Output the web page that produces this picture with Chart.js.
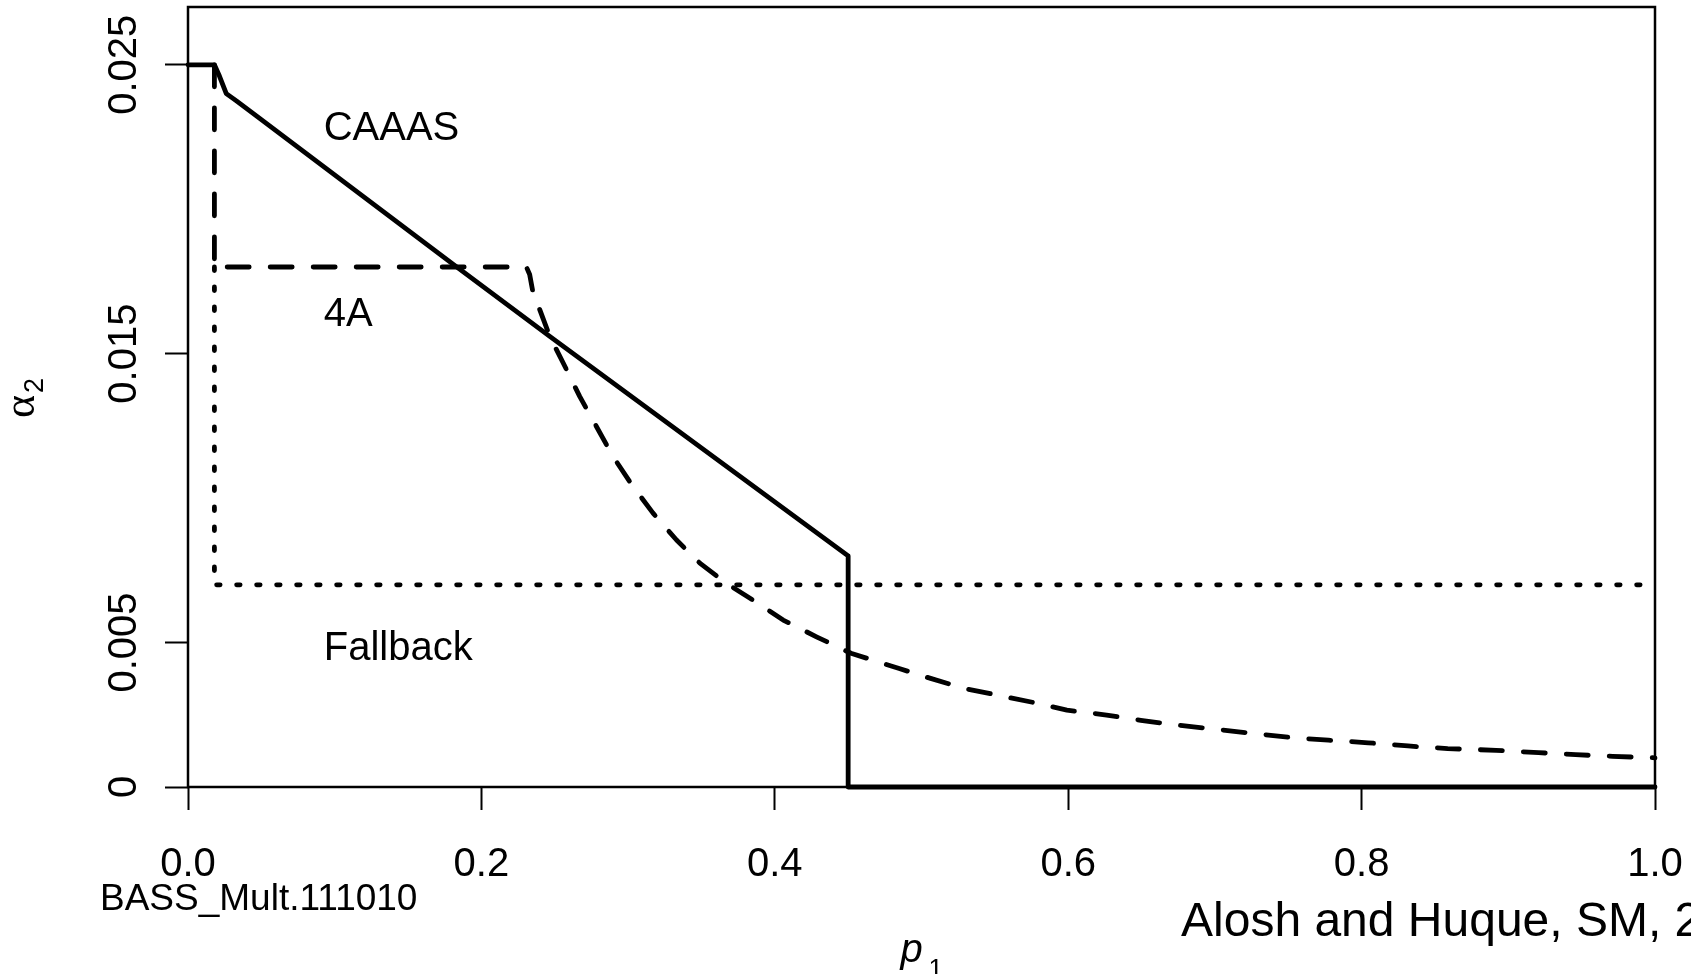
<!DOCTYPE html>
<html>
<head>
<meta charset="utf-8">
<title>alpha2 vs p1</title>
<script src="https://cdn.jsdelivr.net/npm/chart.js@4.4.1/dist/chart.umd.min.js"></script>
<style>
  html, body { margin: 0; padding: 0; background: #fff; overflow: hidden; }
  canvas { display: block; }
</style>
</head>
<body>
<canvas id="alphaChart" width="1691" height="974"></canvas>
<script>
'use strict';

// CAAAS boundary (solid)
const caaasX = [0, 0.018, 0.0215, 0.0261, 0.033, 0.0466, 0.1806, 0.2466, 0.45, 0.45, 1.0];
const caaasY = [0.025, 0.025, 0.0246, 0.0240, 0.02375, 0.02323, 0.0181, 0.0156, 0.0080, 0, 0];

// 4A boundary (dashed)
const fourAX = [0.018, 0.018, 0.2307, 0.2329, 0.2352, 0.2398, 0.2466, 0.258, 0.267, 0.2784, 0.2897,
  0.3034, 0.317, 0.333, 0.3489, 0.367, 0.3852, 0.4057, 0.4284, 0.4519, 0.4848, 0.5062, 0.5294,
  0.5546, 0.5778, 0.5991, 0.6262, 0.6495, 0.6747, 0.7018, 0.727, 0.7522, 0.7774, 0.8045, 0.8316,
  0.8587, 0.8917, 0.9207, 0.9459, 0.9711, 1.0];
const fourAY = [0.025, 0.018, 0.018, 0.01774, 0.01711, 0.01652, 0.0156, 0.01445, 0.01352, 0.01248, 0.01144,
  0.0104, 0.00948, 0.00855, 0.00775, 0.00705, 0.00647, 0.00578, 0.0052, 0.00463, 0.0041, 0.00376, 0.00341,
  0.00315, 0.00291, 0.00266, 0.00249, 0.00231, 0.00214, 0.00199, 0.00185, 0.00171, 0.00162, 0.00153, 0.00142,
  0.00133, 0.00127, 0.00119, 0.00112, 0.00106, 0.00101];

// Fallback boundary (dotted)
const fallbackX = [0.018, 0.018, 1.0];
const fallbackY = [0.018, 0.007, 0.007];

const xTickValues = [0, 0.2, 0.4, 0.6, 0.8, 1.0];
const xTickLabels = ['0.0', '0.2', '0.4', '0.6', '0.8', '1.0'];
const yTickValues = [0, 0.005, 0.015, 0.025];
const yTickLabels = ['0', '0.005', '0.015', '0.025'];

const regionNames = ['CAAAS', '4A', 'Fallback'];
const regionX = [0.0925, 0.0925, 0.0925];
const regionY = [0.0224, 0.01595, 0.00439];

const toPoints = (xs, ys) => xs.map((x, i) => ({ x, y: ys[i] }));
const SANS = '"Liberation Sans", Arial, sans-serif';

const annotate = {
  id: 'annotate',
  beforeDatasetsDraw(chart) {
    const { ctx, chartArea: a } = chart;
    ctx.save();
    ctx.strokeStyle = '#000';
    ctx.lineWidth = 2.5;
    ctx.strokeRect(a.left, a.top, a.right - a.left, a.bottom - a.top);
    ctx.restore();
  },
  afterDraw(chart) {
    const { ctx, chartArea: a, scales: { x, y } } = chart;
    ctx.save();
    ctx.fillStyle = '#000';
    ctx.textAlign = 'left';
    ctx.textBaseline = 'alphabetic';

    ctx.font = `40px ${SANS}`;
    regionNames.forEach((name, i) => {
      ctx.fillText(name, x.getPixelForValue(regionX[i]), y.getPixelForValue(regionY[i]));
    });

    // x title: p with subscript 1
    const cx = (a.left + a.right) / 2;
    ctx.font = `italic 40px ${SANS}`;
    ctx.fillText('p', cx - 21, 962);
    ctx.font = `26px ${SANS}`;
    ctx.fillText('1', cx + 7, 977);

    // footers
    ctx.font = `37px ${SANS}`;
    ctx.fillText('BASS_Mult.111010', 100, 910);
    ctx.font = `48px ${SANS}`;
    ctx.fillText('Alosh and Huque, SM, 2009', 1181, 936);

    // y title: alpha with subscript 2, rotated
    ctx.translate(34, 418);
    ctx.rotate(-Math.PI / 2);
    ctx.font = '44px "Liberation Serif", serif';
    ctx.fillText('α', 0, 0);
    ctx.font = `27px ${SANS}`;
    ctx.fillText('2', 25, 9);
    ctx.restore();
  }
};

const line = (label, xs, ys, dash) => ({
  label,
  data: toPoints(xs, ys),
  showLine: true,
  borderColor: '#000',
  backgroundColor: '#000',
  borderWidth: 4.8,
  borderDash: dash,
  borderCapStyle: 'round',
  borderJoinStyle: 'round',
  pointRadius: 0,
  tension: 0,
  clip: false
});

new Chart(document.getElementById('alphaChart').getContext('2d'), {
  type: 'scatter',
  data: {
    datasets: [
      line('CAAAS', caaasX, caaasY, []),
      line('4A', fourAX, fourAY, [22, 21]),
      line('Fallback', fallbackX, fallbackY, [3.5, 16.5])
    ]
  },
  options: {
    responsive: false,
    animation: false,
    layout: { padding: { left: 0, right: 36, top: 7, bottom: 0 } },
    plugins: { legend: { display: false }, tooltip: { enabled: false } },
    scales: {
      x: {
        type: 'linear',
        min: 0,
        max: 1,
        afterBuildTicks: (axis) => { axis.ticks = xTickValues.map((value) => ({ value })); },
        afterFit: (axis) => { axis.height = 187; axis.paddingLeft = 0; axis.paddingRight = 0; },
        border: { display: false },
        grid: { drawOnChartArea: false, drawTicks: true, tickLength: 23, tickWidth: 2, tickColor: '#000' },
        ticks: {
          autoSkip: false,
          maxRotation: 0,
          padding: 31,
          color: '#000',
          font: { family: SANS, size: 40 },
          callback: (v) => xTickLabels[xTickValues.indexOf(v)]
        }
      },
      y: {
        type: 'linear',
        min: 0,
        max: 0.027,
        afterBuildTicks: (axis) => { axis.ticks = yTickValues.map((value) => ({ value })); },
        afterFit: (axis) => { axis.width = 188; axis.paddingTop = 0; axis.paddingBottom = 0; },
        border: { display: false },
        grid: { drawOnChartArea: false, drawTicks: true, tickLength: 23, tickWidth: 2, tickColor: '#000' },
        ticks: {
          autoSkip: false,
          minRotation: 90,
          maxRotation: 90,
          crossAlign: 'center',
          padding: -10,
          color: '#000',
          font: { family: SANS, size: 40 },
          callback: (v) => yTickLabels[yTickValues.indexOf(v)]
        }
      }
    }
  },
  plugins: [annotate]
});
</script>
</body>
</html>
